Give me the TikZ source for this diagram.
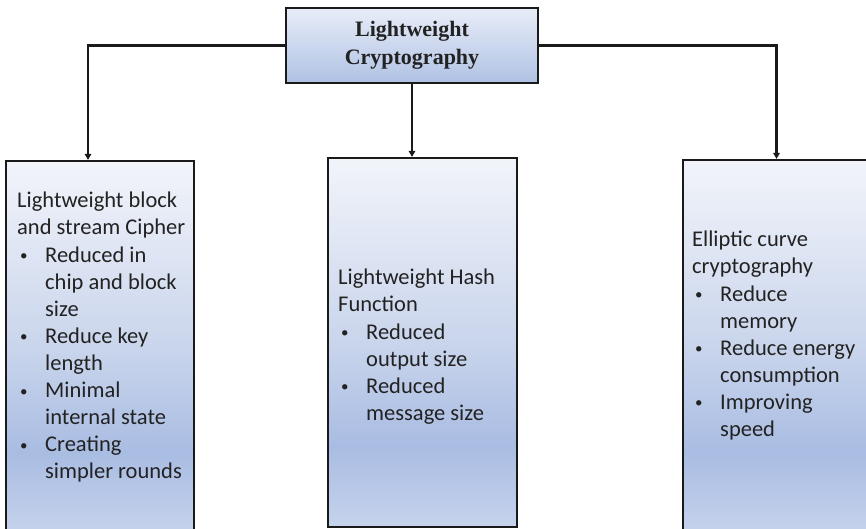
\documentclass[tikz,border=0pt]{standalone}
\usepackage{fontspec}
\setmainfont{Carlito}
\newfontfamily\titlefont{Liberation Serif}
\usetikzlibrary{arrows.meta}
\definecolor{lineC}{HTML}{1A1A1A}
\definecolor{txtC}{HTML}{222222}
\definecolor{bTop}{HTML}{F2F4FA}
\definecolor{bMid}{HTML}{C9D5EC}
\definecolor{bDark}{HTML}{A9BCE2}
\definecolor{bBot}{HTML}{C6D3EC}
\definecolor{tTop}{HTML}{E8EDF8}
\definecolor{tBot}{HTML}{AFC2E4}
\pgfdeclareverticalshading{bigshade}{100bp}{color(0bp)=(bBot); color(25bp)=(bBot); color(36bp)=(bDark); color(50bp)=(bMid); color(75bp)=(bTop); color(100bp)=(bTop)}
\pgfdeclareverticalshading{topshade}{100bp}{color(0bp)=(tBot); color(25bp)=(tBot); color(75bp)=(tTop); color(100bp)=(tTop)}
\tikzset{
  bigbox/.style={draw=lineC, line width=2.2pt, shading=bigshade, inner sep=0pt},
  topbox/.style={draw=lineC, line width=2.2pt, shading=topshade, inner sep=0pt,
     font=\titlefont\bfseries\fontsize{22}{27.5}\selectfont, text=txtC, align=center},
  boxtext/.style={anchor=north west, inner sep=0pt, align=left, text=txtC,
     font=\fontsize{22.5}{27.1}\selectfont},
  conn/.style={draw=lineC, line width=2.4pt, -{Triangle[length=6pt,width=6.5pt]}}
}
\newcommand{\bul}{\makebox[28pt][l]{\hspace{3pt}\raisebox{1.5pt}{\fontsize{15}{15}\selectfont •}}}
\newcommand{\ind}{\hspace*{28pt}}
\begin{document}
\begin{tikzpicture}[x=1pt,y=1pt]
\useasboundingbox (0,0) rectangle (866,529);
\clip (0,0) rectangle (866,529);
% boxes (y = 529 - pixel y)
\node[topbox, minimum width=252pt, minimum height=75pt] (top) at (412,483.5)
  {Lightweight\\Cryptography};
\node[bigbox, minimum width=188pt, minimum height=374pt] (left) at (100,181) {};
\node[bigbox, minimum width=189pt, minimum height=369pt] (mid) at (422.5,186.5) {};
\node[bigbox, minimum width=187pt, minimum height=375pt] (right) at (776.5,181.5) {};
% connectors
\draw[conn] (top.west) -| ([xshift=-12pt]left.north);
\draw[conn] (top.east) -| (right.north);
\draw[conn] (top.south) -- (top.south |- mid.north);
% texts
\node[boxtext] (lt) at (17,337)
  {Lightweight block\\and stream Cipher\\
   \bul Reduced in\\\ind chip and block\\\ind size\\
   \bul Reduce key\\\ind length\\
   \bul Minimal\\\ind internal state\\
   \bul Creating\\\ind simpler rounds};
\node[boxtext] (mt) at (338,260)
  {Lightweight Hash\\Function\\
   \bul Reduced\\\ind output size\\
   \bul Reduced\\\ind message size};
\node[boxtext] (rt) at (692,298)
  {Elliptic curve\\cryptography\\
   \bul Reduce\\\ind memory\\
   \bul Reduce energy\\\ind consumption\\
   \bul Improving\\\ind speed};
\end{tikzpicture}
\end{document}
